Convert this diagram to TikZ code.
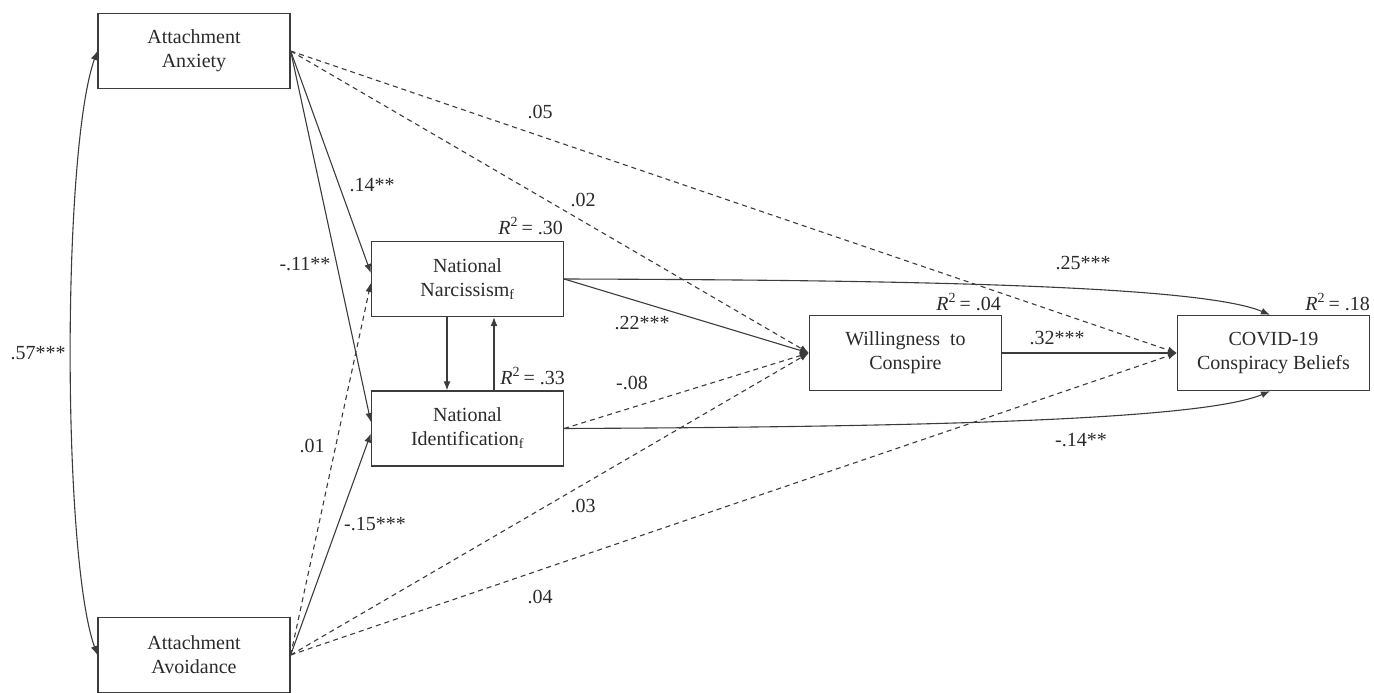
\documentclass[tikz,border=0pt]{standalone}
\usepackage{fontspec}
\setmainfont{Liberation Serif}
\usetikzlibrary{arrows.meta,calc}
\definecolor{ln}{HTML}{3C3C3C}
\definecolor{tx}{HTML}{2A2A2A}
\begin{document}
\begin{tikzpicture}[x=1pt,y=-1pt,
 box/.style={draw=ln, line width=1.3pt, minimum width=192pt, minimum height=75pt, inner sep=0pt, align=center, font=\fontsize{20}{24}\selectfont, text=tx},
 sig/.style={draw=ln, line width=1.1pt, -{Latex[length=9pt,width=7pt]}},
 nsig/.style={sig, dash pattern=on 5pt off 4pt},
 lab/.style={font=\fontsize{20}{24}\selectfont, text=tx, inner sep=0pt},
]
\useasboundingbox (0,0) rectangle (1374,693);
\node[box] (A) at (194,51) {Attachment\\Anxiety};
\node[box] (V) at (194,655) {Attachment\\Avoidance};
\node[box] (N) at (467.5,279) {National\\Narcissism\textsubscript{f}};
\node[box] (I) at (467.5,428.5) {National\\Identification\textsubscript{f}};
\node[box] (W) at (905.5,353) {Willingness~ to\\Conspire};
\node[box] (C) at (1273.5,353) {COVID-19\\Conspiracy Beliefs};

% R-squared
\node[lab, anchor=base east] (r1) at (563,234) {\textit{R}\textsuperscript{2}\,= .30};
\node[lab, anchor=base east] (r2) at (565,384) {\textit{R}\textsuperscript{2}\,= .33};
\node[lab, anchor=base east] (r3) at (1001,310) {\textit{R}\textsuperscript{2}\,= .04};
\node[lab, anchor=base east] (r4) at (1370,310) {\textit{R}\textsuperscript{2}\,= .18};

% correlation
\draw[draw=ln, line width=1.1pt, {Latex[length=9pt,width=7pt]}-{Latex[length=9pt,width=7pt]}]
  (A.west) .. controls (62,150) and (62,555) .. (V.west);

% from Anxiety
\draw[sig] (A.east) -- ($(N.west)+(0,-6)$);
\draw[sig] (A.east) -- ($(I.west)+(0,-6.5)$);
\draw[nsig] (A.east) -- (W.west);
\draw[nsig] (A.east) -- (C.west);

% from Avoidance
\draw[nsig] (V.east) -- ($(N.west)+(0,4)$);
\draw[sig] (V.east) -- ($(I.west)+(0,5)$);
\draw[nsig] (V.east) -- (W.west);
\draw[nsig] (V.east) -- (C.west);

% between N and I
\draw[sig] ($(N.south)+(-20.5,0)$) -- ($(I.north)+(-20.5,0)$);
\draw[sig] ($(I.north)+(26.5,0)$) -- ($(N.south)+(26.5,0)$);

% to W and C
\draw[sig] (N.east) -- (W.west);
\draw[nsig] (I.east) -- (W.west);
\draw[sig] (N.east) .. controls (900,280) and (1200,285) .. ($(C.north)+(-3.5,0)$);
\draw[sig] (I.east) .. controls (900,427) and (1200,421) .. ($(C.south)+(-3.5,0)$);
\draw[sig] (W.east) -- (C.west);

% labels
\node[lab] (l57) at (38,353) {.57***};
\node[lab] (l14) at (372,185) {.14**};
\node[lab] (l11) at (305,264) {-.11**};
\node[lab] (l01) at (312,446) {.01};
\node[lab] (l15) at (375,524) {-.15***};
\node[lab] (l05) at (540,112) {.05};
\node[lab] (l02) at (583,200) {.02};
\node[lab] (l22) at (642,323) {.22***};
\node[lab] (l08) at (632,383) {-.08};
\node[lab] (l03) at (583,506) {.03};
\node[lab] (l04) at (540,597) {.04};
\node[lab] (l25) at (1083,263) {.25***};
\node[lab] (l32) at (1057,338) {.32***};
\node[lab] (l14b) at (1081,440) {-.14**};
\end{tikzpicture}
\end{document}
